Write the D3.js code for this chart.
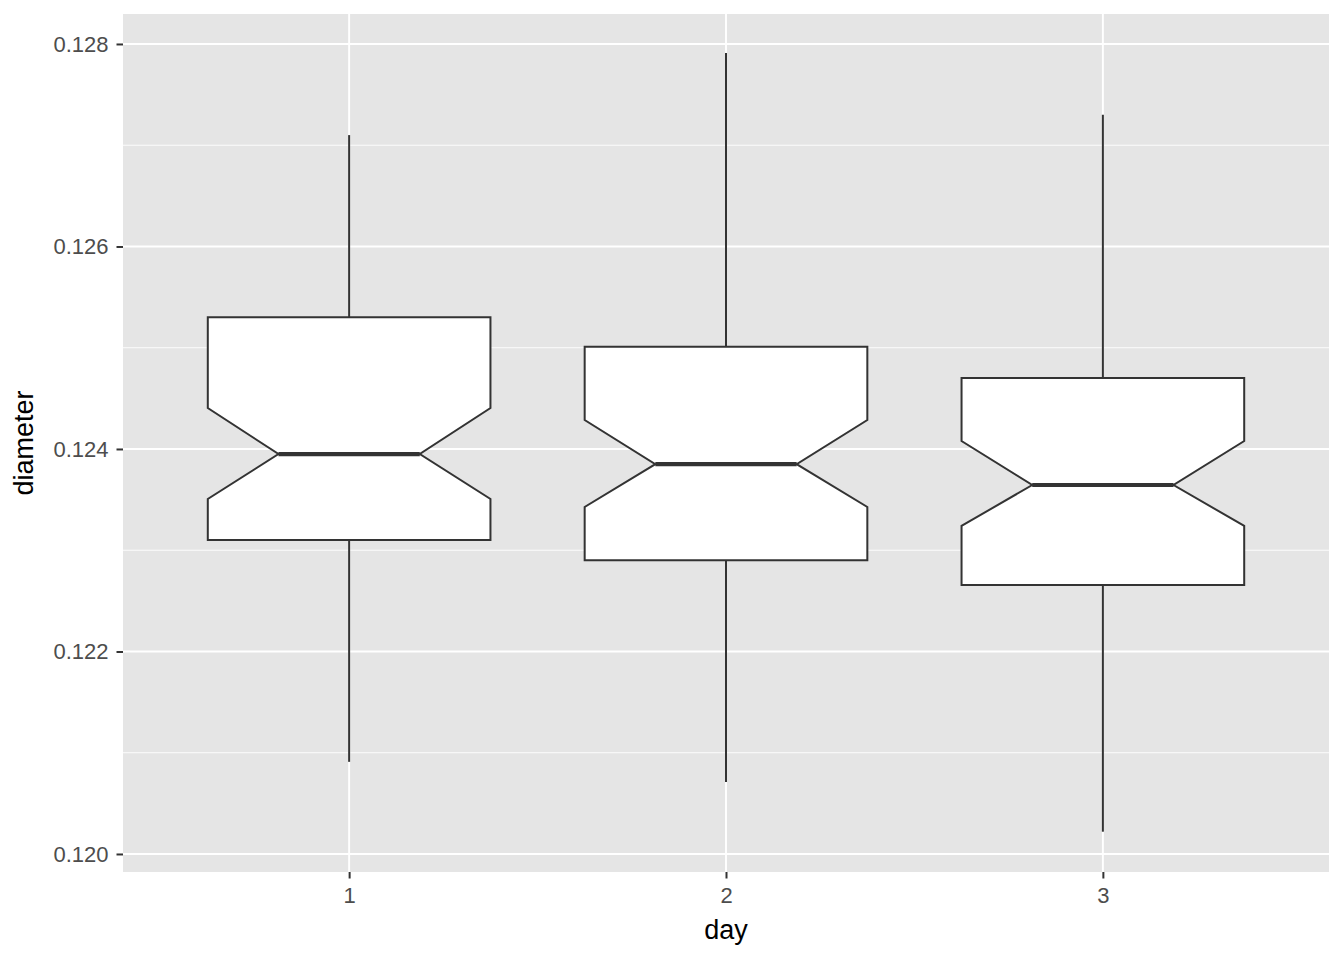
<!DOCTYPE html>
<html lang="en">
<head>
<meta charset="utf-8">
<title>diameter by day</title>
<script src="https://cdn.jsdelivr.net/npm/d3@7"></script>
<style>
  body { margin: 0; background: #fff; }
  text { font-family: "Liberation Sans", Arial, sans-serif; }
</style>
</head>
<body>
<script>
// values
var days = ["1", "2", "3"];
var whiskerLow  = [0.12091, 0.12071, 0.12022];
var q1          = [0.12310, 0.12290, 0.122657];
var notchLow    = [0.123506, 0.123427, 0.12324];
var median      = [0.12395, 0.12385, 0.123644];
var notchHigh   = [0.124405, 0.124286, 0.124079];
var q3          = [0.12530, 0.12501, 0.12470];
var whiskerHigh = [0.12710, 0.12791, 0.12730];
var yTicks = [0.120, 0.122, 0.124, 0.126, 0.128];
var yMinor = [0.121, 0.123, 0.125, 0.127];

var W = 1344, H = 960;
var panel = {left: 123, right: 1329, top: 14, bottom: 872};

var svg = d3.select("body").append("svg")
  .attr("width", W).attr("height", H);

var x = d3.scaleLinear().domain([0.4, 3.6]).range([panel.left, panel.right]);
var y = d3.scaleLinear().domain([0.119822, 0.128296]).range([panel.bottom, panel.top]);

// panel background
svg.append("rect")
  .attr("x", panel.left).attr("y", panel.top)
  .attr("width", panel.right - panel.left)
  .attr("height", panel.bottom - panel.top)
  .attr("fill", "#e5e5e5");

// grid lines
var grid = svg.append("g");
grid.selectAll("line.minor").data(yMinor).enter().append("line")
  .attr("x1", panel.left).attr("x2", panel.right)
  .attr("y1", d => y(d)).attr("y2", d => y(d))
  .attr("stroke", "#fff").attr("stroke-width", 0.9);
grid.selectAll("line.major").data(yTicks).enter().append("line")
  .attr("x1", panel.left).attr("x2", panel.right)
  .attr("y1", d => y(d)).attr("y2", d => y(d))
  .attr("stroke", "#fff").attr("stroke-width", 1.9);
grid.selectAll("line.vx").data(days).enter().append("line")
  .attr("x1", (d, i) => x(i + 1)).attr("x2", (d, i) => x(i + 1))
  .attr("y1", panel.top).attr("y2", panel.bottom)
  .attr("stroke", "#fff").attr("stroke-width", 1.9);

// boxes
var half = 0.375, notchHalf = 0.1875;
var boxes = svg.append("g").selectAll("g").data(days).enter().append("g");

boxes.append("line")
  .attr("x1", (d, i) => x(i + 1)).attr("x2", (d, i) => x(i + 1))
  .attr("y1", (d, i) => y(q3[i])).attr("y2", (d, i) => y(whiskerHigh[i]))
  .attr("stroke", "#333").attr("stroke-width", 2);
boxes.append("line")
  .attr("x1", (d, i) => x(i + 1)).attr("x2", (d, i) => x(i + 1))
  .attr("y1", (d, i) => y(q1[i])).attr("y2", (d, i) => y(whiskerLow[i]))
  .attr("stroke", "#333").attr("stroke-width", 2);

boxes.append("path")
  .attr("d", function(d, i) {
    var c = i + 1;
    var pts = [
      [c - half, q3[i]], [c + half, q3[i]], [c + half, notchHigh[i]],
      [c + notchHalf, median[i]], [c + half, notchLow[i]], [c + half, q1[i]],
      [c - half, q1[i]], [c - half, notchLow[i]], [c - notchHalf, median[i]],
      [c - half, notchHigh[i]]
    ];
    return "M" + pts.map(p => x(p[0]) + "," + y(p[1])).join("L") + "Z";
  })
  .attr("fill", "#fff").attr("stroke", "#333").attr("stroke-width", 2);

boxes.append("line")
  .attr("x1", (d, i) => x(i + 1 - notchHalf)).attr("x2", (d, i) => x(i + 1 + notchHalf))
  .attr("y1", (d, i) => y(median[i])).attr("y2", (d, i) => y(median[i]))
  .attr("stroke", "#333").attr("stroke-width", 4.2);

// y axis
var yAxis = svg.append("g")
  .attr("transform", "translate(" + panel.left + ",0)")
  .call(d3.axisLeft(y).tickValues(yTicks).tickFormat(d3.format(".3f")).tickSize(6.5).tickPadding(8));
yAxis.select(".domain").remove();
yAxis.selectAll("line").attr("stroke", "#333").attr("stroke-width", 2);
yAxis.selectAll("text").attr("fill", "#4d4d4d").style("font-size", "22px")
  .style("font-family", "'Liberation Sans', Arial, sans-serif");

// x axis
var xAxis = svg.append("g")
  .attr("transform", "translate(0," + panel.bottom + ")")
  .call(d3.axisBottom(x).tickValues([1, 2, 3]).tickFormat((d) => days[d - 1]).tickSize(6.5).tickPadding(9));
xAxis.select(".domain").remove();
xAxis.selectAll("line").attr("stroke", "#333").attr("stroke-width", 2);
xAxis.selectAll("text").attr("fill", "#4d4d4d").style("font-size", "22px")
  .style("font-family", "'Liberation Sans', Arial, sans-serif");

// axis titles
svg.append("text")
  .attr("x", (panel.left + panel.right) / 2).attr("y", 939)
  .attr("text-anchor", "middle").attr("fill", "#000")
  .style("font-size", "27px").text("day");
svg.append("text")
  .attr("transform", "translate(33," + ((panel.top + panel.bottom) / 2) + ") rotate(-90)")
  .attr("text-anchor", "middle").attr("fill", "#000")
  .style("font-size", "27px").text("diameter");
</script>
</body>
</html>
